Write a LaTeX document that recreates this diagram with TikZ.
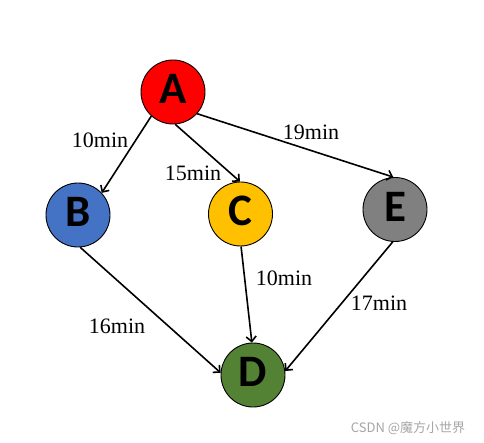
\documentclass[tikz,border=0pt]{standalone}
\usepackage{fontspec}
\setmainfont{Liberation Serif}
\newfontfamily\letterfont{Carlito}
\newfontfamily\cjkfont{Noto Sans CJK SC}
\usetikzlibrary{arrows.meta}
\definecolor{nodeblue}{RGB}{68,114,196}
\definecolor{nodegold}{RGB}{255,192,0}
\definecolor{nodegray}{RGB}{128,128,128}
\definecolor{nodegreen}{RGB}{84,130,53}
\definecolor{markgray}{RGB}{165,165,165}

\begin{document}
\begin{tikzpicture}[x=1pt,y=-1pt,
  town/.style={circle, draw=black, line width=0.9pt, minimum size=64pt, inner sep=0pt,
    text depth=6pt, font=\letterfont\bfseries\fontsize{45}{45}\selectfont},
  road/.style={line width=1.6pt, -{Straight Barb[length=5pt,width=10pt]}},
  cost/.style={font=\fontsize{22}{22}\selectfont, inner sep=0pt}]
\useasboundingbox (0,0) rectangle (484,443);

\node[town, fill=red] (A) at (173,92) {A};
\node[town, fill=nodeblue] (B) at (78,215) {B};
\node[town, fill=nodegold] (C) at (240.5,214) {C};
\node[town, fill=nodegray] (E) at (395,209.5) {E};
\node[town, fill=nodegreen] (D) at (253,375) {D};

\draw[road] (A.228) -- (B.43);
\draw[road] (A.-86) -- (C.91);
\draw[road] (A.-42) -- (E.93);
\draw[road] (B.-86) -- (D.176);
\draw[road] (C.-89) -- (D.92);
\draw[road] (E.-94) -- (D.7);

\node[cost] (ab) at (100,140) {10min};
\node[cost] (ac) at (193,173) {15min};
\node[cost] (ae) at (311,132) {19min};
\node[cost] (bd) at (117,326) {16min};
\node[cost] (cd) at (284,278) {10min};
\node[cost] (ed) at (379,303) {17min};

\node[text=markgray, font=\cjkfont\fontsize{13}{13}\selectfont] (mark) at (408,428) {CSDN @魔方小世界};
\end{tikzpicture}
\end{document}
